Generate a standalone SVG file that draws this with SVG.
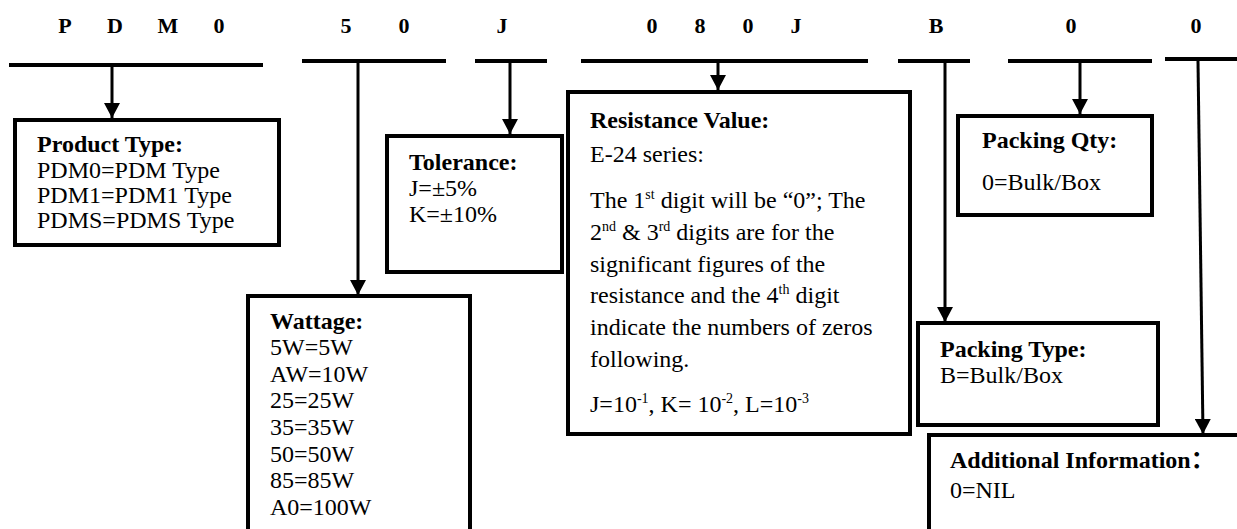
<svg xmlns="http://www.w3.org/2000/svg" width="1237" height="529" viewBox="0 0 1237 529">
<style>
.bg{fill:#fff}
.hdr{font-family:"Liberation Serif","Times New Roman",serif;font-weight:bold;font-size:22px;fill:#000;text-anchor:middle}
.bar{stroke:#000;stroke-width:4;fill:none}
.box{fill:#fff;stroke:#000;stroke-width:4}
.t{font-family:"Liberation Serif","Times New Roman","Noto Sans CJK SC",serif;font-size:24px;fill:#000}
.b{font-weight:bold}
.sup{font-size:14px}
.conn{stroke:#000;stroke-width:3;fill:none}
</style>
<defs>
<marker id="arr" markerUnits="userSpaceOnUse" markerWidth="16" markerHeight="16" refX="15" refY="8" orient="auto" viewBox="0 0 16 16">
<path d="M0,0 L15,8 L0,16 z" fill="#000"/>
</marker>
</defs>
<rect class="bg" x="0" y="0" width="1237" height="529"/>

<g id="header">
<text class="hdr" x="65" y="33">P</text>
<text class="hdr" x="115" y="33">D</text>
<text class="hdr" x="168" y="33">M</text>
<text class="hdr" x="219" y="33">0</text>
<text class="hdr" x="346" y="33">5</text>
<text class="hdr" x="404" y="33">0</text>
<text class="hdr" x="502" y="33">J</text>
<text class="hdr" x="652" y="33">0</text>
<text class="hdr" x="700" y="33">8</text>
<text class="hdr" x="748" y="33">0</text>
<text class="hdr" x="796" y="33">J</text>
<text class="hdr" x="936" y="33">B</text>
<text class="hdr" x="1071" y="33">0</text>
<text class="hdr" x="1196" y="33">0</text>
<line class="bar" x1="9" y1="65" x2="263" y2="65"/>
<line class="bar" x1="302" y1="61" x2="446" y2="61"/>
<line class="bar" x1="475" y1="61" x2="547" y2="61"/>
<line class="bar" x1="581" y1="61" x2="868" y2="61"/>
<line class="bar" x1="898" y1="61" x2="970" y2="61"/>
<line class="bar" x1="1008" y1="61" x2="1152" y2="61"/>
<line class="bar" x1="1165" y1="59" x2="1237" y2="59"/>
</g>

<g id="connectors">
<line class="conn" x1="112" y1="65" x2="112" y2="118" marker-end="url(#arr)"/>
<line class="conn" x1="358" y1="61" x2="358" y2="295" marker-end="url(#arr)"/>
<line class="conn" x1="510" y1="61" x2="510" y2="134" marker-end="url(#arr)"/>
<line class="conn" x1="718" y1="61" x2="718" y2="90" marker-end="url(#arr)"/>
<line class="conn" x1="945" y1="61" x2="945" y2="322" marker-end="url(#arr)"/>
<line class="conn" x1="1080" y1="61" x2="1080" y2="114" marker-end="url(#arr)"/>
<line class="conn" x1="1198" y1="61" x2="1203" y2="434" marker-end="url(#arr)"/>
</g>

<g id="product-type">
<rect class="box" x="15" y="120" width="264" height="125"/>
<text class="t b" x="37" y="152">Product Type:</text>
<text class="t" x="37" y="178">PDM0=PDM Type</text>
<text class="t" x="37" y="203">PDM1=PDM1 Type</text>
<text class="t" x="37" y="228">PDMS=PDMS Type</text>
</g>

<g id="tolerance">
<rect class="box" x="387" y="136" width="175" height="136"/>
<text class="t b" x="409" y="170">Tolerance:</text>
<text class="t" x="409" y="196">J=±5%</text>
<text class="t" x="409" y="222">K=±10%</text>
</g>

<g id="wattage">
<rect class="box" x="248" y="296" width="222" height="250"/>
<text class="t b" x="270" y="329">Wattage:</text>
<text class="t" x="270" y="355">5W=5W</text>
<text class="t" x="270" y="382">AW=10W</text>
<text class="t" x="270" y="408">25=25W</text>
<text class="t" x="270" y="435">35=35W</text>
<text class="t" x="270" y="462">50=50W</text>
<text class="t" x="270" y="488">85=85W</text>
<text class="t" x="270" y="515">A0=100W</text>
</g>

<g id="resistance-value">
<rect class="box" x="568" y="92" width="342" height="342"/>
<text class="t b" x="590" y="128">Resistance Value:</text>
<text class="t" x="590" y="162">E-24 series:</text>
<text class="t" x="590" y="208">The 1<tspan class="sup" dy="-9">st</tspan><tspan dy="9"> digit will be “0”; The</tspan></text>
<text class="t" x="590" y="240">2<tspan class="sup" dy="-9">nd</tspan><tspan dy="9"> &amp; 3</tspan><tspan class="sup" dy="-9">rd</tspan><tspan dy="9"> digits are for the</tspan></text>
<text class="t" x="590" y="272">significant figures of the</text>
<text class="t" x="590" y="303">resistance and the 4<tspan class="sup" dy="-9">th</tspan><tspan dy="9"> digit</tspan></text>
<text class="t" x="590" y="335">indicate the numbers of zeros</text>
<text class="t" x="590" y="367">following.</text>
<text class="t" x="590" y="412">J=10<tspan class="sup" dy="-9">-1</tspan><tspan dy="9">, K= 10</tspan><tspan class="sup" dy="-9">-2</tspan><tspan dy="9">, L=10</tspan><tspan class="sup" dy="-9">-3</tspan></text>
</g>

<g id="packing-qty">
<rect class="box" x="958" y="116" width="194" height="99"/>
<text class="t b" x="982" y="148">Packing Qty:</text>
<text class="t" x="982" y="190">0=Bulk/Box</text>
</g>

<g id="packing-type">
<rect class="box" x="918" y="323" width="240" height="102"/>
<text class="t b" x="940" y="357">Packing Type:</text>
<text class="t" x="940" y="383">B=Bulk/Box</text>
</g>

<g id="additional-info">
<rect class="box" x="929" y="435" width="320" height="110"/>
<text class="t b" x="950" y="468">Additional Information：</text>
<text class="t" x="950" y="498">0=NIL</text>
</g>
</svg>
